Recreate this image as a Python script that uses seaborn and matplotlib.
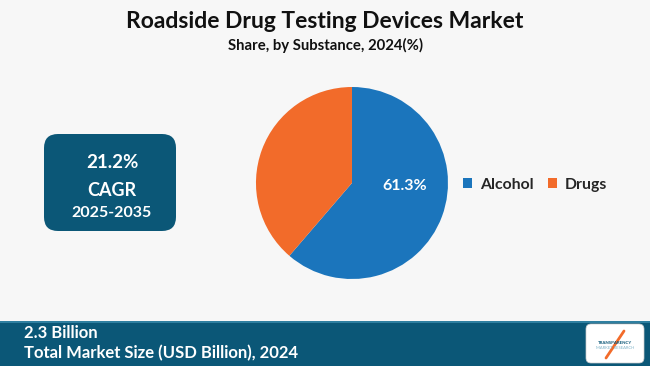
import numpy as np
import matplotlib.pyplot as plt
import seaborn as sns
from matplotlib.patches import FancyBboxPatch, Rectangle

# data
substances = ["Alcohol", "Drugs"]
shares = [61.3, 38.7]
colors = ["#1B75BC", "#F26B2A"]

title = "Roadside Drug Testing Devices Market"
subtitle = "Share, by Substance, 2024(%)"
cagr_lines = ["21.2%", "CAGR", "2025-2035"]
market_value = "2.3 Billion"
market_label = "Total Market Size (USD Billion), 2024"

sns.set_theme(style="white")
plt.rcParams['font.family'] = ['Lato', 'DejaVu Sans']

bg = "#F7F7F7"
teal = "#0B5777"

fig = plt.figure(figsize=(6.5, 3.66), dpi=100)
fig.patch.set_facecolor(bg)

# titles
fig.text(0.5, 0.942, title, ha="center", va="center", fontsize=16.5, fontweight="bold", color="#111111")
fig.text(0.5, 0.876, subtitle, ha="center", va="center", fontsize=10.7, fontweight="bold", color="#111111")

# pie
ax = fig.add_axes([0.5415 - 0.1477, 0.5 - 0.2623, 0.2954, 0.5246])
wedges, texts, autotexts = ax.pie(shares, colors=colors, startangle=90, counterclock=False,
                                  autopct=lambda p: f"{p:.1f}%" if p > 50 else "",
                                  pctdistance=0.56, wedgeprops=dict(linewidth=0))
for t in autotexts:
    t.set_color("white")
    t.set_fontsize(11.5)
    t.set_fontweight("bold")
# label sits near the right edge of the blue slice, as in the source
autotexts[0].set_position((0.55, -0.03))
ax.set_aspect("equal")
ax.set_xlim(-1, 1)
ax.set_ylim(-1, 1)

# legend
fig.legend(wedges, substances, loc="center left", bbox_to_anchor=(0.69, 0.495), ncol=2,
           frameon=False, prop=dict(weight="bold", size=11.3),
           handlelength=0.6, handleheight=0.6, handletextpad=0.5, columnspacing=0.9)

# CAGR box
bx = fig.add_axes([0, 0, 1, 1], zorder=-1)
bx.set_xlim(0, 650)
bx.set_ylim(366, 0)
bx.axis("off")
bx.add_patch(FancyBboxPatch((44, 134), 132, 97, boxstyle="round,pad=0,rounding_size=14",
                            facecolor=teal, edgecolor="none"))
bx.text(112, 163, cagr_lines[0], ha="center", va="center", color="white", fontsize=13.5, fontweight="bold")
bx.text(112, 190, cagr_lines[1], ha="center", va="center", color="white", fontsize=13, fontweight="bold")
bx.text(112, 213, cagr_lines[2], ha="center", va="center", color="white", fontsize=11.5, fontweight="bold")

# footer band
bx.add_patch(Rectangle((0, 322), 650, 44, facecolor=teal, edgecolor="none"))
bx.add_patch(Rectangle((0, 321), 650, 1.5, facecolor="#2F7FA0", edgecolor="none"))
bx.text(24, 333, market_value, ha="left", va="center", color="white", fontsize=12, fontweight="bold")
bx.text(24, 353, market_label, ha="left", va="center", color="white", fontsize=12, fontweight="bold")

# logo
bx.add_patch(FancyBboxPatch((586, 324), 58, 39, boxstyle="round,pad=0,rounding_size=5",
                            facecolor="white", edgecolor="#cccccc", linewidth=0.5))
bx.text(615, 343, "TRANSPARENCY", ha="center", va="center", fontsize=3.2, fontweight="bold", color="#0B5777")
bx.text(615, 348, "MARKET RESEARCH", ha="center", va="center", fontsize=3, color="#7FB3C8")
bx.plot([606, 624], [358, 331], color="#F26B2A", lw=2)

fig.savefig("out.png", dpi=100, facecolor=bg)
